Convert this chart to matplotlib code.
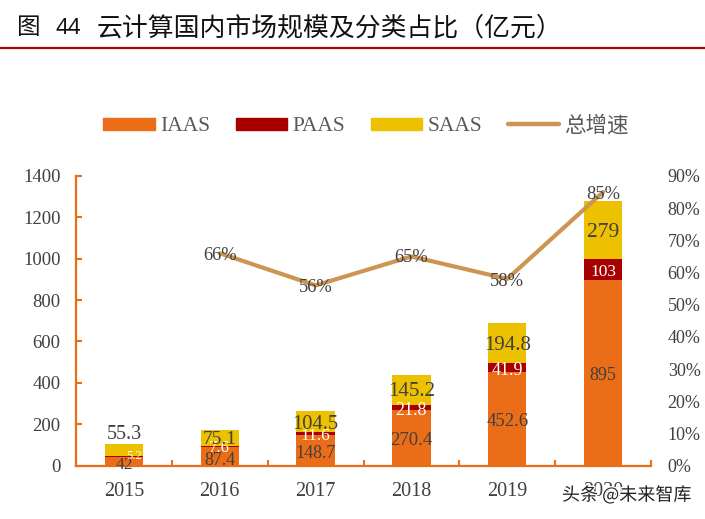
import matplotlib
matplotlib.use('Agg')
import matplotlib.pyplot as plt
import matplotlib.patheffects as pe
import numpy as np
from matplotlib.patches import Patch
from matplotlib.lines import Line2D

plt.rcParams['font.family'] = ['Liberation Serif', 'Noto Sans CJK SC', 'DejaVu Sans']

years = ['2015', '2016', '2017', '2018', '2019', '2020']
iaas = [42, 87.4, 148.7, 270.4, 452.6, 895]
paas = [5.2, 7.6, 11.6, 21.8, 41.9, 103]
saas = [55.3, 75.1, 104.5, 145.2, 194.8, 279]
growth_years = ['2016', '2017', '2018', '2019', '2020']
growth = [66, 56, 65, 58, 85]

ORANGE = '#EC6D17'
RED = '#A80000'
YELLOW = '#EDC000'
TAN = '#CD9552'
GREY = '#404040'

W, H = 705, 519
fig = plt.figure(figsize=(W / 100, H / 100), dpi=100)
left, right, top, bottom = 76, 651, 176, 465.5
ax = fig.add_axes([left / W, 1 - bottom / H, (right - left) / W, (bottom - top) / H])

x = np.arange(len(years)) + 0.5
bar_w = 0.4
iaas_a, paas_a, saas_a = np.array(iaas), np.array(paas), np.array(saas)
ax.bar(x, iaas_a, bar_w, color=ORANGE)
ax.bar(x, paas_a, bar_w, bottom=iaas_a, color=RED)
ax.bar(x, saas_a, bar_w, bottom=iaas_a + paas_a, color=YELLOW)

ax.set_xlim(0, 6)
ax.set_ylim(0, 1400)
ax.set_yticks(range(0, 1401, 200))
ax.set_xticks(x)
ax.set_xticklabels(years)
ax.set_xticks(np.arange(0, 7), minor=True)
ax.tick_params(axis='x', which='major', length=0, pad=12, labelsize=14.5, labelcolor=GREY)
ax.tick_params(axis='x', which='minor', direction='in', length=4, width=1.5, color=ORANGE)
ax.tick_params(axis='y', direction='in', length=4, width=1.5, color=ORANGE, pad=11,
               labelsize=13.5, labelcolor=GREY)
for side in ['top', 'right']:
    ax.spines[side].set_visible(False)
for side in ['left', 'bottom']:
    ax.spines[side].set_color(ORANGE)
    ax.spines[side].set_linewidth(1.6)

ax2 = ax.twinx()
ax2.set_ylim(0, 90)
ax2.set_yticks(range(0, 91, 10))
ax2.set_yticklabels([f'{v}%' for v in range(0, 91, 10)])
ax2.tick_params(axis='y', length=0, pad=12, labelsize=13, labelcolor=GREY)
for s in ax2.spines.values():
    s.set_visible(False)
line_x = x[[years.index(y) for y in growth_years]]
ax2.plot(line_x, growth, color=TAN, lw=3, solid_capstyle='round')

# label nudges from the stack middle, in pixels
nudge_iaas = [(0, -1), (0, -2), (0, -1), (0, 0), (0, 0), (0, 0)]
nudge_paas = [(10, 2.5), (0, 1), (0, 0), (0, -1), (0, 0), (0, 0)]
nudge_saas = [(0, 12.5), (0, 1), (0, 0), (0, 1), (0, 0), (0, 0)]
nudge_growth = [(0, 0), (0, 0), (0, 1), (0, 0), (0, 0)]
size_iaas = [12.5, 13, 13, 13.5, 13.5, 13]
size_paas = [9, 12, 12.5, 13, 13, 12.5]
size_saas = [14.5, 14, 14.8, 15, 15, 15.5]


def put(axis, xv, yv, txt, off, color, size=13):
    axis.annotate(txt, (xv, yv), xytext=(off[0] * 0.72, (off[1] - 2.5) * 0.72),
                  textcoords='offset points', ha='center', va='center',
                  fontsize=size, color=color, zorder=6)


ax.set_zorder(ax2.get_zorder() - 1)
ax2.patch.set_visible(False)
for i in range(len(years)):
    put(ax2, x[i], iaas[i] / 2 / 1400 * 90, str(iaas[i]), nudge_iaas[i], GREY, size_iaas[i])
    ypaas = (iaas[i] + paas[i] / 2) / 1400 * 90
    put(ax2, x[i], ypaas, str(paas[i]), nudge_paas[i], 'white', size_paas[i])
    ysaas = (iaas[i] + paas[i] + saas[i] / 2) / 1400 * 90
    if i == 0:
        ysaas = (iaas[i] + paas[i] + saas[i]) / 1400 * 90
    put(ax2, x[i], ysaas, str(saas[i]), nudge_saas[i], GREY, size_saas[i])
for i, g in enumerate(growth):
    put(ax2, line_x[i], g, f'{g}%', nudge_growth[i], GREY, size=13.3)

handles = [Patch(color=ORANGE), Patch(color=RED), Patch(color=YELLOW),
           Line2D([0], [0], color=TAN, lw=3.2, solid_capstyle='round')]
leg = fig.legend(handles, ['IAAS', 'PAAS', 'SAAS', '总增速'], ncol=4, frameon=False,
                 loc='center', bbox_to_anchor=(366 / W, 1 - 126 / H), fontsize=15.5,
                 handlelength=2.4, handleheight=0.5, handletextpad=0.22,
                 columnspacing=1.2, labelcolor='#595959')

fig.text(17 / W, 1 - 28 / H, '图', fontsize=17, color='#111111', va='center')
fig.text(56 / W, 1 - 28 / H, '44', fontsize=16, color='#111111', va='center',
         family=['Noto Sans', 'DejaVu Sans'])
fig.text(97 / W, 1 - 28 / H, '云计算国内市场规模及分类占比（亿元）', fontsize=18.6,
         color='#111111', va='center')
fig.add_artist(Line2D([0, 1], [1 - 47.5 / H, 1 - 47.5 / H], color='#B00000', lw=1.6))

fig.text(562 / W, 1 - 495 / H, '头条 @未来智库', fontsize=13, color='#222222', va='center',
         family=['Noto Sans CJK SC', 'DejaVu Sans'],
         path_effects=[pe.withStroke(linewidth=2, foreground='white')])

fig.savefig('out.png', dpi=100)
